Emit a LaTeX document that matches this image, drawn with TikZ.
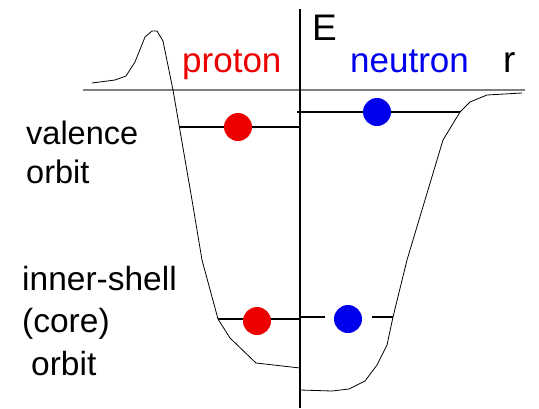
\documentclass[tikz,border=0pt]{standalone}
\usepackage{fontspec}
\setmainfont{Liberation Sans}
\definecolor{protonred}{RGB}{236,0,0}
\definecolor{neutronblue}{RGB}{0,0,236}
\definecolor{axisgray}{RGB}{128,128,128}

\begin{document}
\begin{tikzpicture}[x=1pt, y=-1pt,
  lbl/.style={anchor=base west, inner sep=0pt, align=left},
  level/.style={line width=2.6pt},
  pot/.style={line width=0.8pt},
  ball/.style={circle, inner sep=0pt, minimum size=28pt}
]
\useasboundingbox (0,0) rectangle (539,408);

% axes
\draw[line width=1.5pt, axisgray] (83,90) -- (525,90);
\draw[line width=1.2pt] (300,9) -- (300,408);
\node[lbl, font=\fontsize{37}{40}\selectfont] (elabel) at (312,40) {E};
\node[lbl, font=\fontsize{37}{40}\selectfont] (rlabel) at (503,72) {r};
\node[lbl, font=\fontsize{35}{40}\selectfont, text=protonred] (proton) at (182,72) {proton};
\node[lbl, font=\fontsize{35}{40}\selectfont, text=neutronblue] (neutron) at (350,72) {neutron};

% potentials
\draw[pot] (92,83) -- (115,80) -- (126,76) -- (135,62) -- (145,37) -- (152,31)
  -- (157,31) -- (163,41) -- (173,90) -- (192,200) -- (202,260) -- (218,319)
  -- (230,338) -- (256,363) -- (300,368);
\draw[pot] (522,93) -- (487,95) -- (470,102) -- (460,112) -- (443,140)
  -- (407,260) -- (393,317) -- (387,345) -- (377,365) -- (365,381)
  -- (349,389) -- (332,391) -- (300,390);

% levels
\draw[level] (179,127) -- (300,127);
\draw[level] (297,112) -- (460,112);
\draw[level] (218,319) -- (300,319);
\draw[level, dash pattern=on 25pt off 11pt] (300,317) -- (393,317);
\node[ball, fill=protonred] (pval) at (238,127) {};
\node[ball, fill=neutronblue] (nval) at (377,112) {};
\node[ball, fill=protonred] (pcore) at (257,321) {};
\node[ball, fill=neutronblue] (ncore) at (348,319) {};

% labels (base = last line)
\node[lbl, font=\fontsize{32.5}{39}\selectfont] (valence) at (26,183) {valence\\orbit};
\node[lbl, font=\fontsize{33.5}{42.5}\selectfont] (inner) at (22,375) {inner-shell\\(core)\\\hspace*{9pt}orbit};
\end{tikzpicture}
\end{document}
